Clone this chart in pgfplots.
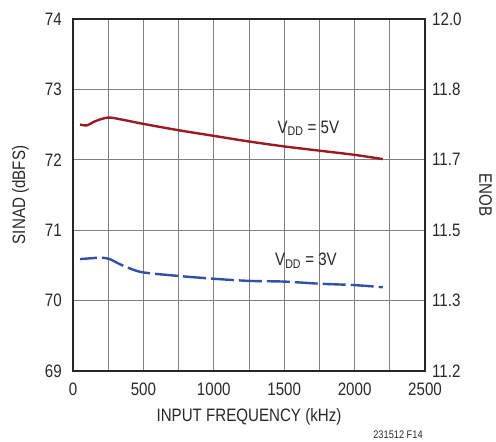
\documentclass[border=0pt]{standalone}
\usepackage{fontspec}
\setmainfont{Liberation Sans}[FakeStretch=0.84]
\usepackage{pgfplots}
\pgfplotsset{compat=1.18}
\definecolor{redc}{RGB}{155,26,36}
\definecolor{bluec}{RGB}{50,80,165}
\definecolor{txt}{RGB}{40,40,40}
\begin{document}
\begin{tikzpicture}
\pgfplotsset{
  common/.style={
    scale only axis, width=352pt, height=352pt,
    xmin=0, xmax=2500, ymin=69, ymax=74,
    ytick={69,70,71,72,73,74},
    /pgf/number format/assume math mode=true,
    tick style={draw=none},
    axis line style={line width=1.5pt, black!85},
    every tick label/.append style={font=\fontsize{18}{20}\selectfont, text=txt, inner sep=0pt},
    label style={font=\fontsize{18}{20}\selectfont, text=txt, inner sep=0pt},
  }
}
\begin{axis}[common,
  xtick={0,500,1000,1500,2000,2500},
  minor xtick={250,750,1250,1750,2250},
  grid=both,
  major grid style={black!50, line width=0.8pt},
  minor grid style={black!50, line width=0.8pt},
  xticklabel style={/pgf/number format/1000 sep={}, anchor=north, yshift=-12pt},
  yticklabel style={anchor=east, xshift=-11pt},
  xlabel={INPUT FREQUENCY (kHz)},
  ylabel={SINAD (dBFS)},
  xlabel style={at={(rel axis cs:0.5,0)}, anchor=north, yshift=-37pt},
  ylabel style={at={([xshift=-61pt]rel axis cs:0,0.5)}, anchor=north, rotate=0},
  clip=false,
]
\coordinate (sw) at (rel axis cs:0,0);
\coordinate (ne) at (rel axis cs:1,1);
\addplot[redc, line width=2.4pt, smooth, tension=0.5] coordinates {
 (50,72.50) (100,72.49) (160,72.55) (250,72.60) (350,72.57) (500,72.51)
 (750,72.42) (1000,72.34) (1250,72.26) (1500,72.19) (1750,72.13) (2000,72.07) (2200,72.01)};
\addplot[bluec, line width=2.4pt, dash pattern=on 23pt off 5pt, dash phase=-22pt, smooth, tension=0.5] coordinates {
 (50,70.59) (120,70.60) (200,70.61) (260,70.59) (330,70.52) (400,70.46) (500,70.40)
 (750,70.35) (1000,70.31) (1250,70.28) (1500,70.27) (1750,70.24) (2000,70.22) (2200,70.19)};
\node[font=\fontsize{18}{20}\selectfont, text=txt, anchor=base, inner sep=0pt] at (axis cs:1672,72.38) {V\textsubscript{DD} = 5V};
\node[font=\fontsize{18}{20}\selectfont, text=txt, anchor=base, inner sep=0pt] at (axis cs:1655,70.50) {V\textsubscript{DD} = 3V};
\node[font=\fontsize{11}{12}\selectfont, text=txt, anchor=center, inner sep=0pt] at ([shift={(-27pt,-64pt)}]rel axis cs:1,0) {231512 F14};
\end{axis}
\begin{axis}[common,
  axis y line*=right, axis x line=none,
  ytick={69,70,71,72,73,74},
  yticklabels={11.2,11.3,11.5,11.7,11.8,12.0},
  yticklabel style={anchor=west, xshift=7pt},
  ylabel={ENOB},
  ylabel style={at={([xshift=54pt]rel axis cs:1,0.5)}, anchor=south, rotate=180},
]
\end{axis}
\pgfresetboundingbox
\path ([shift={(-73pt,-70pt)}]sw) rectangle ([shift={(71pt,19pt)}]ne);
\end{tikzpicture}
\end{document}
